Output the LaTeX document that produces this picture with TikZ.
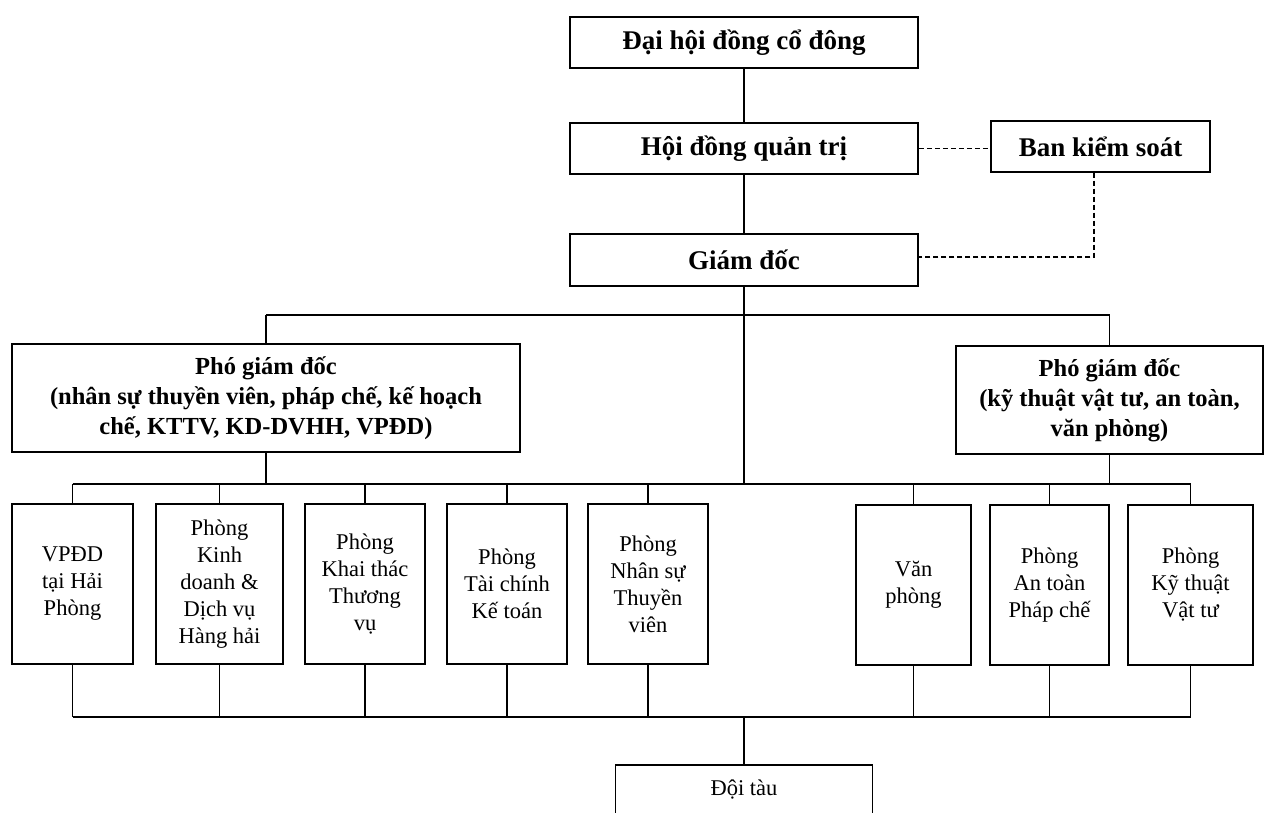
\documentclass[tikz,border=0pt]{standalone}
\usepackage{fontspec}
\setmainfont{Liberation Serif}
\begin{document}
\begin{tikzpicture}[x=1pt,y=-1pt,
  box/.style={draw,line width=1.5pt,inner sep=0pt,align=center},
  big/.style={box,font=\fontsize{27}{32}\selectfont\bfseries,minimum height=51pt},
  pgd/.style={box,font=\fontsize{24.5}{30}\selectfont\bfseries,minimum height=108pt},
  dept/.style={box,font=\fontsize{22.5}{27}\selectfont,minimum height=160pt},
  conn/.style={line width=1.2pt},
  dsh/.style={line width=1.2pt,dash pattern=on 5pt off 3pt}]
\useasboundingbox (0,0) rectangle (1264,813);
\clip (0,0) rectangle (1264,813);
\fill[white] (0,0) rectangle (1264,813);

% top
\node[big,minimum width=348pt] (dh) at (744,42.5) {Đại hội đồng cổ đông};
\node[big,minimum width=348pt] (hd) at (744,148.5) {Hội đồng quản trị};
\node[big,minimum width=219pt] (bks) at (1100.5,146.5) {Ban kiểm soát};
\node[big,minimum width=348pt,minimum height=52pt] (gd) at (744,260) {Giám đốc};

% deputies
\node[pgd,minimum width=508pt] (pg1) at (266,398) {Phó giám đốc\\(nhân sự thuyền viên, pháp chế, kế hoạch\\chế, KTTV, KD-DVHH, VPĐD)};
\node[pgd,minimum width=307pt] (pg2) at (1109.5,400) {Phó giám đốc\\(kỹ thuật vật tư, an toàn,\\văn phòng)};

% departments
\node[dept,minimum width=121pt] (d1) at (72.5,584) {VPĐD\\tại Hải\\Phòng};
\node[dept,minimum width=127pt] (d2) at (219.5,584) {Phòng\\Kinh\\doanh \&\\Dịch vụ\\Hàng hải};
\node[dept,minimum width=120pt] (d3) at (365,584) {Phòng\\Khai thác\\Thương\\vụ};
\node[dept,minimum width=120pt] (d4) at (507,584) {Phòng\\Tài chính\\Kế toán};
\node[dept,minimum width=120pt] (d5) at (648,584) {Phòng\\Nhân sự\\Thuyền\\viên};
\node[dept,minimum width=115pt] (d6) at (913.5,585) {Văn\\phòng};
\node[dept,minimum width=119pt] (d7) at (1049.5,585) {Phòng\\An toàn\\Pháp chế};
\node[dept,minimum width=125pt] (d8) at (1190.5,585) {Phòng\\Kỹ thuật\\Vật tư};

% fleet
\node[box,font=\fontsize{22.5}{27}\selectfont,minimum width=257pt,minimum height=50pt] (doi) at (744,790) {Đội tàu};

% coordinates
\coordinate (t1) at (744,315);
\coordinate (b1) at (744,484);
\coordinate (b2) at (744,717);
\coordinate (k1) at (1094,257);

% connectors
\draw[conn] (dh) -- (hd);
\draw[conn] (hd) -- (gd);
\draw[dsh] (hd.east) -- (hd.east -| bks.west);
\draw[dsh] (bks.south -| k1) -- (k1) -- (gd.east |- k1);

\draw[conn] (gd.south) -- (b1);
\draw[conn] (t1 -| pg1.north) -- (t1 -| pg2.north);
\draw[conn] (t1 -| pg1.north) -- (pg1.north);
\draw[conn] (t1 -| pg2.north) -- (pg2.north);
\draw[conn] (pg1.south) -- (pg1.south |- b1);
\draw[conn] (pg2.south) -- (pg2.south |- b1);

\draw[conn] (b1 -| d1.north) -- (b1 -| d8.north);
\draw[conn] (b2 -| d1.south) -- (b2 -| d8.south);
\foreach \d in {d1,d2,d3,d4,d5,d6,d7,d8}{
  \draw[conn] (\d.north) -- (\d.north |- b1);
  \draw[conn] (\d.south) -- (\d.south |- b2);
}
\draw[conn] (doi.north |- b2) -- (doi.north);
\end{tikzpicture}
\end{document}
